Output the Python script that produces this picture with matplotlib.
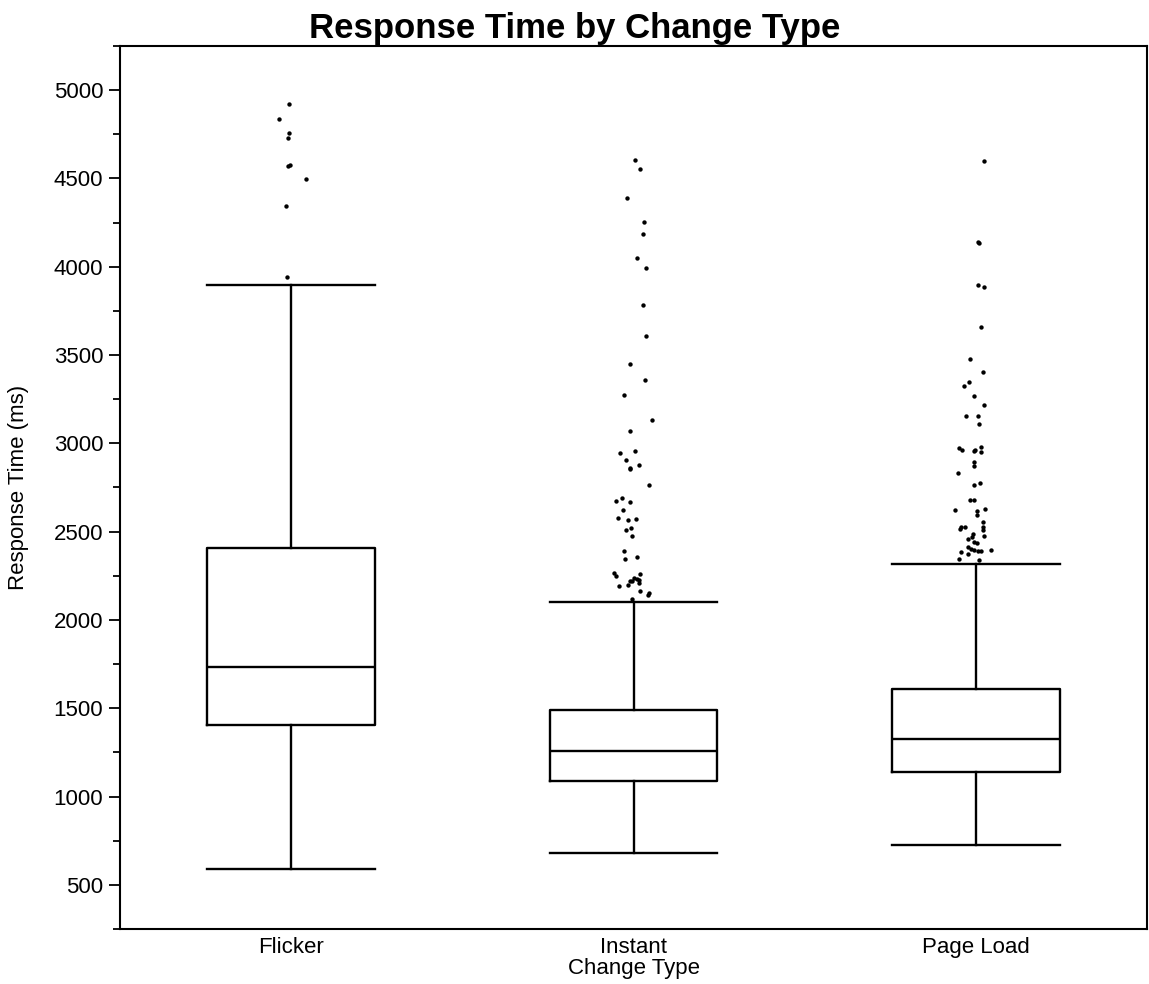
import matplotlib
matplotlib.use("Agg")
import matplotlib.pyplot as plt
import numpy as np
from matplotlib.ticker import MultipleLocator

plt.rcParams['font.family'] = ['Liberation Sans', 'DejaVu Sans']

categories = ["Flicker", "Instant", "Page Load"]
whisker_low = [591, 681, 726]
q1 = [1404, 1089, 1138]
median = [1732, 1257, 1324]
q3 = [2405, 1492, 1607]
whisker_high = [3895, 2103, 2318]

flicker_out = [4924, 4838, 4760, 4730, 4577, 4570, 4498, 4344, 3942]
flicker_jit = [-0.005, -0.037, -0.007, -0.008, -0.004, -0.008, 0.043, -0.015, -0.011]

instant_out = [4602, 4551, 4392, 4251, 4185, 4051, 3995, 3785, 3610, 3452, 3361,
               3272, 3131, 3069, 2957, 2948, 2907, 2876, 2863, 2856, 2763, 2690,
               2671, 2667, 2622, 2580, 2569, 2565, 2520, 2507, 2475, 2392, 2356,
               2347, 2264, 2262, 2248, 2239, 2234, 2224, 2222, 2222, 2207, 2197,
               2192, 2163, 2154, 2141, 2116]
instant_jit = [0.004, 0.020, -0.018, 0.032, 0.027, 0.010, 0.037, 0.027, 0.037, -0.011, 0.033,
               -0.029, 0.053, -0.009, 0.004, -0.039, -0.023, 0.015, -0.009, -0.009, 0.045, -0.034,
               -0.050, -0.010, -0.032, -0.046, 0.006, -0.015, -0.008, -0.021, -0.003, -0.029, 0.010,
               -0.026, -0.056, 0.020, -0.051, 0.001, 0.011, 0.015, -0.009, -0.003, 0.015, -0.015,
               -0.041, 0.020, 0.044, 0.042, -0.004]

pageload_out = [4600, 4142, 4134, 3895, 3883, 3659, 3478, 3402, 3346, 3323, 3269,
                3216, 3156, 3153, 3108, 2976, 2978, 2965, 2955, 2961, 2950, 2895,
                2873, 2831, 2777, 2763, 2678, 2680, 2622, 2618, 2626, 2597, 2556,
                2524, 2512, 2529, 2525, 2514, 2477, 2486, 2471, 2458, 2443, 2433,
                2415, 2401, 2398, 2392, 2388, 2395, 2382, 2371, 2347, 2341]
pageload_jit = [0.025, 0.006, 0.010, 0.006, 0.025, 0.015, -0.018, 0.020, -0.021, -0.036, -0.006,
                0.023, -0.029, 0.005, 0.010, -0.048, 0.014, -0.040, -0.006, -0.001, 0.015, -0.004,
                -0.004, -0.051, 0.011, -0.006, -0.018, -0.006, -0.060, 0.003, 0.028, 0.004, 0.022,
                0.022, 0.022, -0.043, -0.033, -0.046, 0.025, -0.007, -0.010, -0.024, -0.004, 0.004,
                -0.024, -0.014, -0.004, 0.006, 0.014, 0.044, -0.043, -0.024, -0.049, 0.008]

outliers = [flicker_out, instant_out, pageload_out]
jitters = [flicker_jit, instant_jit, pageload_jit]

fig = plt.figure(figsize=(11.49, 9.84), dpi=100)
ax = fig.add_axes([120/1149, 55/984, 1027/1149, 883/984])

stats = []
for i, c in enumerate(categories):
    stats.append(dict(label=c, whislo=whisker_low[i], q1=q1[i], med=median[i],
                      q3=q3[i], whishi=whisker_high[i], fliers=[]))

positions = np.arange(len(categories))
lw = 1.7
ax.bxp(stats, positions=positions, widths=0.49, capwidths=0.49, showfliers=False,
       boxprops=dict(color='black', linewidth=lw),
       medianprops=dict(color='black', linewidth=lw),
       whiskerprops=dict(color='black', linewidth=lw),
       capprops=dict(color='black', linewidth=lw))

for i in range(len(categories)):
    xs = positions[i] + np.array(jitters[i])
    ax.scatter(xs, outliers[i], s=10, color='black', zorder=3, linewidths=0)

ax.set_xlim(-0.5, 2.5)
ax.set_ylim(250, 5250)
ax.yaxis.set_minor_locator(MultipleLocator(250))
ax.set_yticks([500, 1000, 1500, 2000, 2500, 3000, 3500, 4000, 4500, 5000])
ax.set_xticks(positions)
ax.set_xticklabels(categories)
ax.tick_params(axis='y', which='major', length=8, width=1.3, labelsize=16, pad=4)
ax.tick_params(axis='y', which='minor', length=5, width=1.3)
ax.tick_params(axis='x', length=0, labelsize=16, pad=6)
for s in ax.spines.values():
    s.set_linewidth(1.5)

ax.set_xlabel("Change Type", fontsize=16, labelpad=0)
ax.set_ylabel("Response Time (ms)", fontsize=16, labelpad=18)
fig.suptitle("Response Time by Change Type", fontsize=25, fontweight='bold', x=0.5, y=0.988, va='top')

fig.savefig("out.png", dpi=100)
